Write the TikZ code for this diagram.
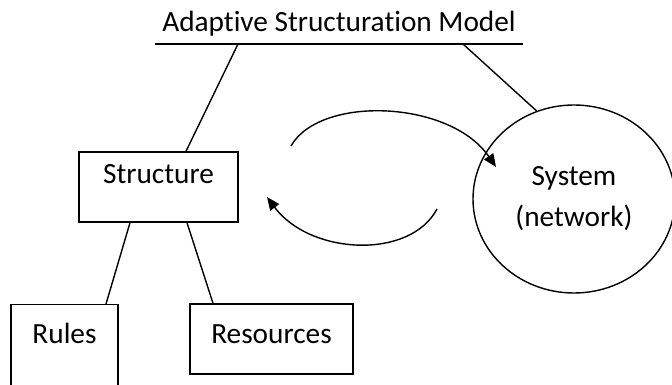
\documentclass[tikz,border=0pt]{standalone}
\usepackage{fontspec}
\setmainfont{Carlito}[Ligatures={NoCommon,NoDiscretionary}]
\usetikzlibrary{shapes.geometric,arrows.meta,calc}
\begin{document}
\begin{tikzpicture}[x=1pt,y=-1pt,
  every node/.style={font=\fontsize{29.3}{35}\selectfont},
  ln/.style={line width=1.4pt},
  boxnode/.style={draw,line width=1.4pt,inner sep=0pt},
  arc/.style={line width=1.4pt,-{Triangle[length=13pt,width=11pt]}}]
\useasboundingbox (0,0) rectangle (672,385);
% title
\node[inner sep=0pt,minimum width=368pt] (title) at (339,24) {Adaptive Structuration Model};
\coordinate (ul) at (155,44);
\coordinate (ur) at (523,44);
\coordinate (tl) at (238,44);
\coordinate (tr) at (463,44);
\draw[ln] (ul) -- (ur);
% nodes
\node[boxnode,minimum width=159pt,minimum height=70pt] (structure) at (158.5,187) {\raisebox{4pt}[0pt][0pt]{Structure}};
\node[boxnode,minimum width=107pt,minimum height=110pt,anchor=north] (rules) at (64.5,304) {\raisebox{16pt}[0pt][0pt]{Rules}};
\node[boxnode,minimum width=163pt,minimum height=70pt] (resources) at (271.5,339) {\raisebox{-4pt}[0pt][0pt]{Resources}};
\node[ellipse,draw,line width=1.4pt,minimum width=202pt,minimum height=188pt,inner sep=0pt,align=center] (sys) at (574,199) {\raisebox{4pt}{System}\\[2pt](network)};
% connectors
\draw[ln] (tl) -- ($(structure.north)+(27.5,0)$);
\draw[ln] (tr) -- (sys.113);
\draw[ln] ($(structure.south)+(-28.5,0)$) -- ($(rules.north)+(41.5,0)$);
\draw[ln] ($(structure.south)+(28.5,0)$) -- ($(resources.north)+(-58.5,0)$);
% cycle arrows
\coordinate (a1) at (291,146);
\coordinate (a2) at (496,167);
\coordinate (b1) at (437,209);
\coordinate (b2) at (267,197);
\draw[arc] (a1) .. controls (320,95) and (450,100) .. (a2);
\draw[arc] (b1) .. controls (410,260) and (310,255) .. (b2);
\end{tikzpicture}
\end{document}
